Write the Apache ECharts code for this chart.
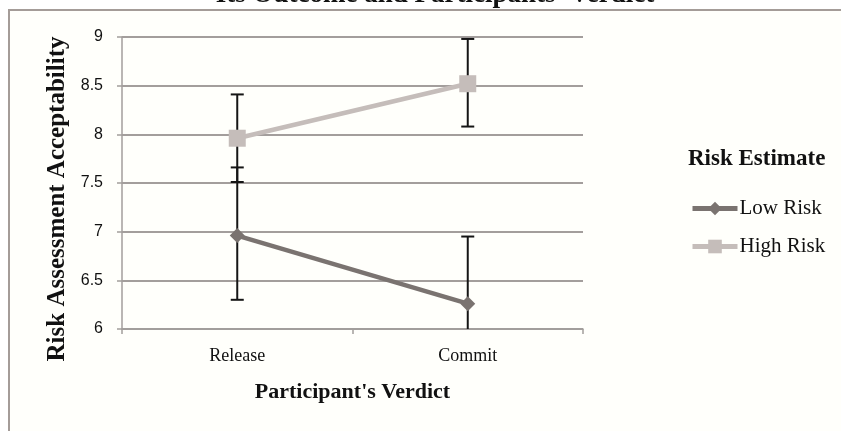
<!DOCTYPE html>
<html>
<head>
<meta charset="utf-8">
<script src="https://cdn.jsdelivr.net/npm/echarts@6/dist/echarts.min.js"></script>
<style>
html,body{margin:0;padding:0;background:#ffffff;}
#c{width:841px;height:431px;}
</style>
</head>
<body>
<div id="c"></div>
<script>
const categories = ['Release', 'Commit'];
const lowRisk = [6.96, 6.26];
const lowRiskErrLow = [6.30, 5.57];
const lowRiskErrHigh = [7.66, 6.95];
const highRisk = [7.96, 8.52];
const highRiskErrLow = [7.51, 8.08];
const highRiskErrHigh = [8.41, 8.98];
const yTicks = [6, 6.5, 7, 7.5, 8, 8.5, 9];

const serif = '"Liberation Serif", "Times New Roman", serif';
const sans = '"Liberation Sans", Arial, sans-serif';

function errData(lo, hi) {
  return categories.map((c, i) => [i, lo[i], hi[i]]);
}
function errRender(params, api) {
  const x = api.value(0);
  const lo = api.coord([x, api.value(1)]);
  const hi = api.coord([x, api.value(2)]);
  const half = 6.5;
  const st = { stroke: '#151515', lineWidth: 2 };
  return {
    type: 'group',
    children: [
      { type: 'line', shape: { x1: lo[0], y1: lo[1], x2: hi[0], y2: hi[1] }, style: st },
      { type: 'line', shape: { x1: hi[0] - half, y1: hi[1], x2: hi[0] + half, y2: hi[1] }, style: st },
      { type: 'line', shape: { x1: lo[0] - half, y1: lo[1], x2: lo[0] + half, y2: lo[1] }, style: st }
    ]
  };
}

const chart = echarts.init(document.getElementById('c'), null, { renderer: 'canvas' });
chart.setOption({
  backgroundColor: '#ffffff',
  animation: false,
  title: {
    text: "Its Outcome and Participants' Verdict",
    left: 430, textAlign: 'center', top: -23,
    textStyle: { fontFamily: serif, fontWeight: 'bold', fontSize: 27, color: '#111' }
  },
  graphic: [{
    type: 'rect', z: -10,
    shape: { x: 9, y: 10, width: 860, height: 450 },
    style: { fill: '#fffffb', stroke: '#a49c98', lineWidth: 2 }
  }, {
    type: 'text', left: 688, top: 148,
    style: { text: 'Risk Estimate', font: 'bold 23px ' + serif, fill: '#111' }
  }],
  legend: {
    orient: 'vertical',
    left: 685, top: 193,
    itemWidth: 45, itemHeight: 17, itemGap: 17,
    data: ['Low Risk', 'High Risk'],
    lineStyle: { width: 5 },
    textStyle: { fontFamily: serif, fontSize: 21, color: '#111', padding: [0, 0, 0, -3] }
  },
  grid: { left: 122, right: 258, top: 37, bottom: 102, containLabel: false },
  xAxis: {
    type: 'category', data: categories, boundaryGap: true,
    name: "Participant's Verdict", nameLocation: 'middle', nameGap: 52,
    nameTextStyle: { fontFamily: serif, fontWeight: 'bold', fontSize: 22, color: '#111' },
    axisLine: { lineStyle: { color: '#a39e9c', width: 1.5 } },
    axisTick: { show: true, length: 5, lineStyle: { color: '#a39e9c', width: 1.5 } },
    axisLabel: { fontFamily: serif, fontSize: 18, color: '#111', margin: 18 }
  },
  yAxis: {
    type: 'value', min: 6, max: 9, interval: 0.5,
    name: 'Risk Assessment Acceptability', nameLocation: 'middle', nameGap: 48,
    nameTextStyle: { fontFamily: serif, fontWeight: 'bold', fontSize: 25, color: '#111',
      padding: [0, 32, 0, 0] },
    axisLine: { show: true, lineStyle: { color: '#a39e9c', width: 1.5 } },
    axisTick: { show: true, length: 5, lineStyle: { color: '#a39e9c', width: 1.5 } },
    axisLabel: { fontFamily: sans, fontSize: 16, color: '#111', margin: 19,
      formatter: v => String(v) },
    splitLine: { lineStyle: { color: '#a39e9c', width: 2 } }
  },
  series: [
    {
      name: 'Low Risk', type: 'line', data: lowRisk,
      symbol: 'diamond', symbolSize: 15,
      lineStyle: { color: '#7a7370', width: 4.5 },
      itemStyle: { color: '#7a7370' }, z: 3
    },
    {
      name: 'High Risk', type: 'line', data: highRisk,
      symbol: 'rect', symbolSize: 17,
      lineStyle: { color: '#c5bdba', width: 4.5 },
      itemStyle: { color: '#c5bdba' }, z: 3
    },
    {
      type: 'custom', name: 'errLow', data: errData(lowRiskErrLow, lowRiskErrHigh),
      renderItem: errRender, clip: true, z: 2, encode: { x: 0, y: [1, 2] }
    },
    {
      type: 'custom', name: 'errHigh', data: errData(highRiskErrLow, highRiskErrHigh),
      renderItem: errRender, clip: true, z: 2, encode: { x: 0, y: [1, 2] }
    }
  ]
});
</script>
</body>
</html>
